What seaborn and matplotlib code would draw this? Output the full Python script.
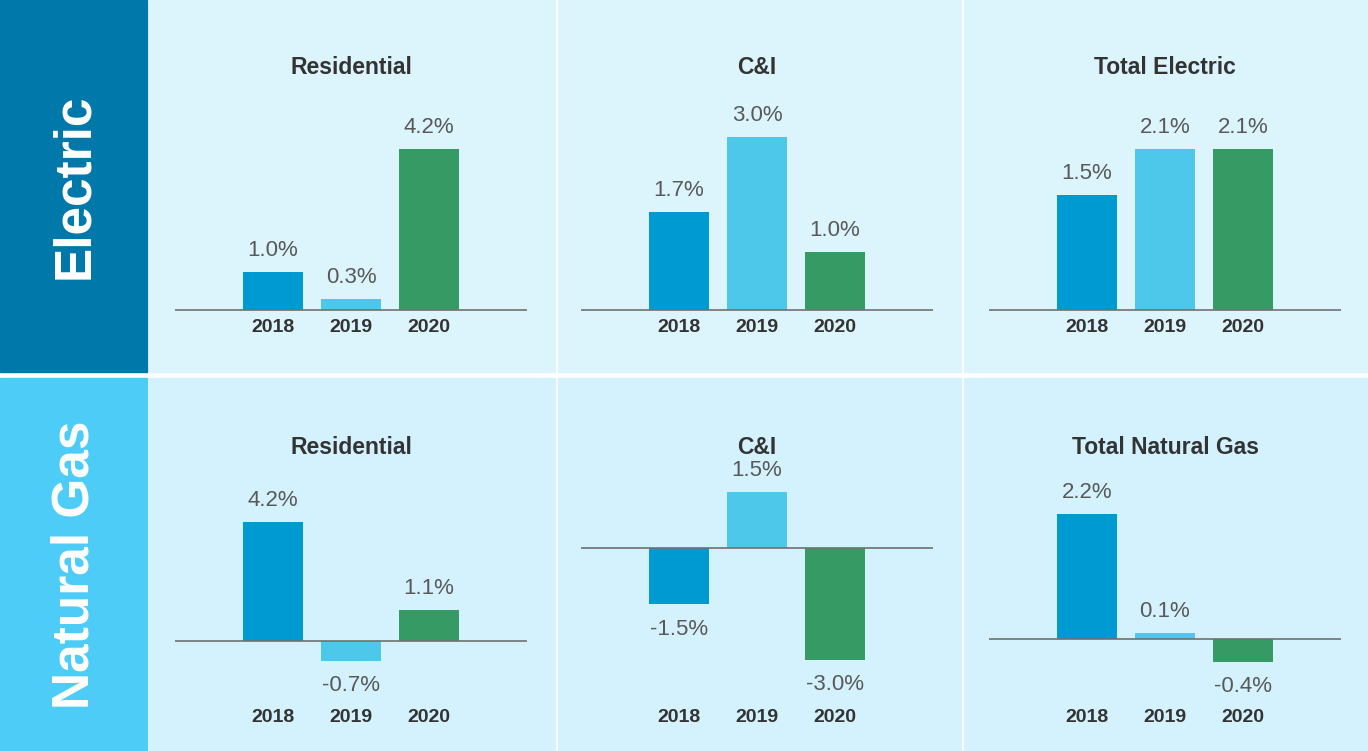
import pandas as pd
import matplotlib
matplotlib.use("Agg")
import matplotlib.pyplot as plt
from matplotlib.patches import Rectangle
import seaborn as sns

# chart data (growth %, by year)
years = ["2018", "2019", "2020"]
row_names = ["Electric", "Natural Gas"]
electric_titles = ["Residential", "C&I", "Total Electric"]
gas_titles = ["Residential", "C&I", "Total Natural Gas"]
electric_residential = [1.0, 0.3, 4.2]
electric_ci = [1.7, 3.0, 1.0]
electric_total = [1.5, 2.1, 2.1]
gas_residential = [4.2, -0.7, 1.1]
gas_ci = [-1.5, 1.5, -3.0]
gas_total = [2.2, 0.1, -0.4]

year_colors = ["#009AD2", "#4EC8EA", "#359A63"]
band_colors = ["#0079AA", "#4DCCF8"]
panel_bg = ["#DCF4FB", "#D4F2FD"]

W, H = 1368, 751


def fx(x):
    return x / W


def fy(y):
    return 1 - y / H


sns.set_style("white")
plt.rcParams["font.family"] = ["Liberation Sans", "DejaVu Sans"]

fig = plt.figure(figsize=(W / 100, H / 100), dpi=100)
fig.patch.set_facecolor("white")

# layout in pixels
row_spans = [(0, 372), (378, 751)]
col_spans = [(149, 555), (558, 961), (964, 1368)]
first_bar_x = [273, 679, 1087]
unit_px = 78
axes_top = [95, 475]
axes_bottom = [312, 702]
title_y = [68, 448]
# baseline pixel and pixels per 1% for each panel
baselines = [[310, 310, 310], [641, 548, 639]]
scales = [[38.3, 57.7, 76.7], [28.3, 37.3, 57.0]]

rows = [
    (electric_titles, [electric_residential, electric_ci, electric_total]),
    (gas_titles, [gas_residential, gas_ci, gas_total]),
]

for r, (titles, series) in enumerate(rows):
    y0, y1 = row_spans[r]
    # left band with rotated label
    fig.patches.append(Rectangle((0, fy(y1)), fx(147), (y1 - y0) / H,
                                 transform=fig.transFigure, color=band_colors[r], zorder=-2))
    fig.text(fx(75), fy((y0 + y1) / 2), row_names[r], rotation=90, ha="center", va="center",
             color="white", fontsize=37, fontweight="bold")
    for c in range(3):
        cx0, cx1 = col_spans[c]
        fig.patches.append(Rectangle((fx(cx0), fy(y1)), (cx1 - cx0) / W, (y1 - y0) / H,
                                     transform=fig.transFigure, color=panel_bg[r], zorder=-2))

        left = first_bar_x[c] - 1.26 * unit_px
        width = 4.52 * unit_px
        top, bot = axes_top[r], axes_bottom[r]
        ax = fig.add_axes([fx(left), fy(bot), width / W, (bot - top) / H])
        ax.patch.set_alpha(0)

        df = pd.DataFrame({"year": years, "value": series[c]})
        sns.barplot(data=df, x="year", y="value", hue="year", palette=year_colors,
                    width=0.78, saturation=1, linewidth=0, legend=False, ax=ax)
        ax.axhline(0, color="#707070", lw=1.2, zorder=3)

        base, s = baselines[r][c], scales[r][c]
        ax.set_ylim(-(bot - base) / s, (base - top) / s)
        ax.set_xlim(-1.26, 3.26)

        for i, v in enumerate(series[c]):
            off = 11.5 if v >= 0 else -22
            ax.annotate(f"{v:.1f}%", (i, v), xytext=(0, off), textcoords="offset points",
                        ha="center", va="baseline", fontsize=16, color="#595959")

        ax.set_xlabel("")
        ax.set_ylabel("")
        ax.set_yticks([])
        ax.tick_params(axis="x", length=0, pad=5, labelsize=14, labelcolor="#333333")
        for lab in ax.get_xticklabels():
            lab.set_fontweight("bold")
        for sp in ax.spines.values():
            sp.set_visible(False)

        fig.text(fx(first_bar_x[c] + unit_px), fy(title_y[r]), titles[c],
                 ha="center", va="center", fontsize=16.5, fontweight="bold", color="#333333")

fig.savefig("out.png", dpi=100)
